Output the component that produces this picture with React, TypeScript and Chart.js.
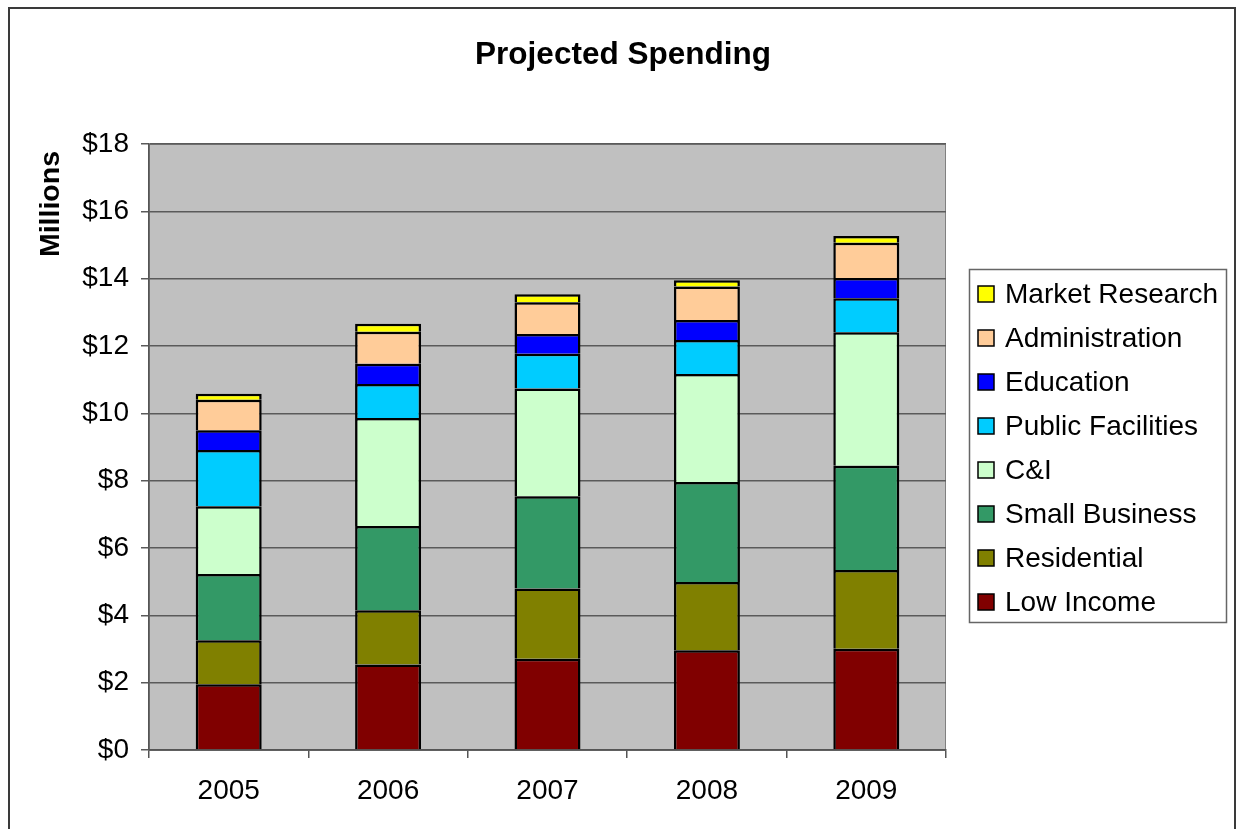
import React, { useEffect, useRef } from "react";
import { Chart, registerables } from "chart.js";

Chart.register(...registerables);

const years = ["2005", "2006", "2007", "2008", "2009"];
const lowIncome = [1.95, 2.54, 2.71, 2.96, 3.01];
const residential = [1.31, 1.61, 2.09, 2.03, 2.34];
const smallBusiness = [1.97, 2.5, 2.74, 2.97, 3.09];
const cAndI = [2.01, 3.21, 3.2, 3.21, 3.97];
const publicFacilities = [1.67, 1.01, 1.03, 1.01, 1.01];
const education = [0.59, 0.6, 0.59, 0.59, 0.6];
const administration = [0.9, 0.95, 0.94, 1.0, 1.05];
const marketResearch = [0.18, 0.24, 0.24, 0.18, 0.2];

const seriesNames = [
  "Low Income",
  "Residential",
  "Small Business",
  "C&I",
  "Public Facilities",
  "Education",
  "Administration",
  "Market Research",
];
const seriesValues = [
  lowIncome,
  residential,
  smallBusiness,
  cAndI,
  publicFacilities,
  education,
  administration,
  marketResearch,
];
const seriesColors = [
  "#800000",
  "#808000",
  "#339966",
  "#CCFFCC",
  "#00CCFF",
  "#0000FF",
  "#FFCC99",
  "#FFFF00",
];

const yTicks = [0, 2, 4, 6, 8, 10, 12, 14, 16, 18];
const titleText = "Projected Spending";
const yTitleText = "Millions";

const FONT = "'Liberation Sans', Arial, sans-serif";

const decorPlugin = {
  id: "decor",
  beforeDraw(chart: any) {
    const { ctx, chartArea } = chart;
    ctx.save();
    ctx.fillStyle = "#ffffff";
    ctx.fillRect(0, 0, chart.width, chart.height);
    ctx.fillStyle = "#C0C0C0";
    ctx.fillRect(chartArea.left, chartArea.top, chartArea.right - chartArea.left, chartArea.bottom - chartArea.top);
    ctx.strokeStyle = "#808080";
    ctx.lineWidth = 1;
    ctx.strokeRect(chartArea.left + 0.5, chartArea.top + 0.5, chartArea.right - chartArea.left - 1, chartArea.bottom - chartArea.top);
    // outer border
    ctx.strokeStyle = "#3a3a3a";
    ctx.lineWidth = 2;
    ctx.strokeRect(9, 8, 1226, 900);
    ctx.restore();
  },
  afterDraw(chart: any) {
    const { ctx } = chart;
    ctx.save();
    // title
    ctx.fillStyle = "#000";
    ctx.font = `bold 31.5px ${FONT}`;
    ctx.textAlign = "center";
    ctx.textBaseline = "alphabetic";
    ctx.fillText(titleText, 623, 64);
    // y title
    ctx.save();
    ctx.translate(51, 204);
    ctx.rotate(-Math.PI / 2);
    ctx.font = `bold 28.5px ${FONT}`;
    ctx.textBaseline = "middle";
    ctx.fillText(yTitleText, 0, 0);
    ctx.restore();
    // legend
    const lx = 969, ly = 269, lw = 257, lh = 353;
    ctx.fillStyle = "#fff";
    ctx.fillRect(lx, ly, lw, lh);
    ctx.strokeStyle = "#666";
    ctx.lineWidth = 1.5;
    ctx.strokeRect(lx + 0.5, ly + 0.5, lw, lh);
    ctx.font = `28px ${FONT}`;
    ctx.textAlign = "left";
    ctx.textBaseline = "middle";
    const ds = chart.data.datasets;
    for (let k = 0; k < ds.length; k++) {
      const d = ds[ds.length - 1 - k];
      const cy = 294 + 44 * k;
      ctx.fillStyle = d.backgroundColor;
      ctx.fillRect(978, cy - 8, 16, 16);
      ctx.strokeStyle = "#000";
      ctx.lineWidth = 1.5;
      ctx.strokeRect(978, cy - 8, 16, 16);
      ctx.fillStyle = "#000";
      ctx.fillText(d.label, 1005, cy + 1);
    }
    ctx.restore();
  },
};

export default function App() {
  const ref = useRef<HTMLCanvasElement | null>(null);
  useEffect(() => {
    if (!ref.current) return;
    const chart = new Chart(ref.current, {
      type: "bar",
      data: {
        labels: years,
        datasets: seriesNames.map((name, i) => ({
          label: name,
          data: seriesValues[i],
          backgroundColor: seriesColors[i],
          borderColor: "#000",
          borderWidth: 2.5,
          barPercentage: 0.414,
          categoryPercentage: 1,
        })),
      },
      options: {
        animation: false,
        responsive: false,
        devicePixelRatio: 1,
        layout: { padding: { top: 144, right: 290, left: 0, bottom: 0 } },
        plugins: {
          legend: { display: false },
          title: { display: false },
          tooltip: { enabled: false },
        },
        scales: {
          x: {
            stacked: true,
            afterFit: (s: any) => {
              s.height = 79;
            },
            grid: {
              display: true,
              drawOnChartArea: false,
              drawTicks: true,
              tickLength: 8,
              color: "#555",
              lineWidth: 1.5,
              offset: true,
            },
            border: { display: true, color: "#555", width: 1.5 },
            ticks: {
              color: "#000",
              font: { family: FONT, size: 28 },
              padding: 16,
              maxRotation: 0,
            },
          },
          y: {
            stacked: true,
            min: 0,
            max: 18,
            afterFit: (s: any) => {
              s.width = 149;
            },
            afterBuildTicks: (s: any) => {
              s.ticks = yTicks.map((v) => ({ value: v }));
            },
            grid: {
              color: "#5a5a5a",
              lineWidth: 1.5,
              drawTicks: true,
              tickLength: 8,
            },
            border: { display: true, color: "#555", width: 1.5 },
            ticks: {
              color: "#000",
              font: { family: FONT, size: 28 },
              padding: 12,
              callback: (v: any) => "$" + v,
            },
          },
        },
      },
      plugins: [decorPlugin],
    });
    return () => chart.destroy();
  }, []);
  return (
    <div style={{ position: "fixed", left: 0, top: 0, width: 1236, height: 829, background: "#fff" }}>
      <canvas ref={ref} width={1236} height={829} style={{ display: "block" }} />
    </div>
  );
}
